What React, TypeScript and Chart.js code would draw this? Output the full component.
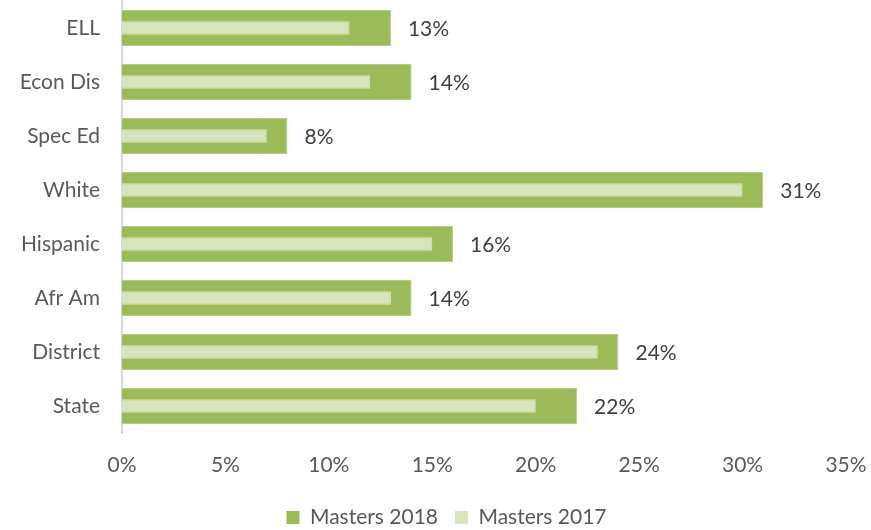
import React, { useEffect, useRef } from "react";
import { Chart, registerables } from "chart.js";

Chart.register(...registerables);

const categories = ["ELL", "Econ Dis", "Spec Ed", "White", "Hispanic", "Afr Am", "District", "State"];
const masters2018 = [13, 14, 8, 31, 16, 14, 24, 22];
const masters2017 = [11, 12, 7, 30, 15, 13, 23, 20];
const xTicks = [0, 5, 10, 15, 20, 25, 30, 35];

const FONT = "Lato, 'Open Sans', sans-serif";
const FS = 21;

const dataLabelPlugin = {
  id: "dataLabels",
  afterDatasetsDraw(chart: any) {
    const ctx = chart.ctx;
    const meta = chart.getDatasetMeta(0);
    ctx.save();
    ctx.font = `${FS}px ${FONT}`;
    ctx.fillStyle = "#404040";
    ctx.textAlign = "left";
    ctx.textBaseline = "middle";
    meta.data.forEach((el: any, i: number) => {
      ctx.fillText(`${masters2018[i]}%`, el.x + 17, el.y + 1);
    });
    ctx.restore();
  },
};

const legendShiftPlugin = {
  id: "legendShift",
  beforeDraw(chart: any) {
    if (chart.legend) {
      chart.legend.left = 22;
    }
  },
};

export default function App() {
  const ref = useRef<HTMLCanvasElement>(null);
  useEffect(() => {
    document.body.style.margin = "0";
    const chart = new Chart(ref.current!, {
      type: "bar",
      data: {
        labels: categories,
        datasets: [
          {
            label: "Masters 2018",
            data: masters2018,
            backgroundColor: "#9BBB59",
            borderColor: "#B5CC85",
            borderWidth: 1,
            grouped: false,
            order: 2,
            barPercentage: 0.667,
            categoryPercentage: 1,
          },
          {
            label: "Masters 2017",
            data: masters2017,
            backgroundColor: "#D7E4BD",
            borderColor: "#DCE7C5",
            borderWidth: 1,
            grouped: false,
            order: 1,
            barPercentage: 0.25,
            categoryPercentage: 1,
          },
        ] as any,
      },
      options: {
        indexAxis: "y",
        animation: false,
        responsive: false,
        maintainAspectRatio: false,
        layout: { padding: { top: 1, right: 0, bottom: -8, left: 0 } },
        scales: {
          x: {
            min: 0,
            max: 35,
            afterBuildTicks: (scale: any) => {
              scale.ticks = xTicks.map((v) => ({ value: v }));
            },
            afterFit: (scale: any) => {
              scale.height = 57;
              scale.paddingLeft = 0;
              scale.paddingRight = 25;
            },
            grid: { display: false, drawTicks: false },
            border: { display: false },
            ticks: {
              padding: 20,
              color: "#595959",
              font: { family: FONT, size: FS },
              callback: (v: any) => `${v}%`,
            },
          },
          y: {
            grid: { display: false, drawTicks: false },
            border: { display: true, color: "#D9D9D9", width: 2 },
            afterFit: (scale: any) => {
              scale.width = 122;
              scale.paddingTop = 0;
              scale.paddingBottom = 0;
            },
            ticks: {
              padding: 22,
              color: "#595959",
              font: { family: FONT, size: FS },
            },
          },
        },
        plugins: {
          legend: {
            position: "bottom",
            labels: {
              boxWidth: 13,
              boxHeight: 13,
              padding: 17,
              color: "#595959",
              font: { family: FONT, size: FS },
              generateLabels: (chart: any) =>
                chart.data.datasets.map((ds: any, i: number) => ({
                  text: ds.label,
                  fillStyle: ds.backgroundColor,
                  strokeStyle: ds.backgroundColor,
                  lineWidth: 0,
                  datasetIndex: i,
                  fontColor: "#595959",
                })),
            },
          },
          tooltip: { enabled: false },
        },
      },
      plugins: [dataLabelPlugin, legendShiftPlugin],
    });
    return () => chart.destroy();
  }, []);
  return (
    <div style={{ width: 871, height: 530 }}>
      <canvas ref={ref} width={871} height={530} />
    </div>
  );
}
